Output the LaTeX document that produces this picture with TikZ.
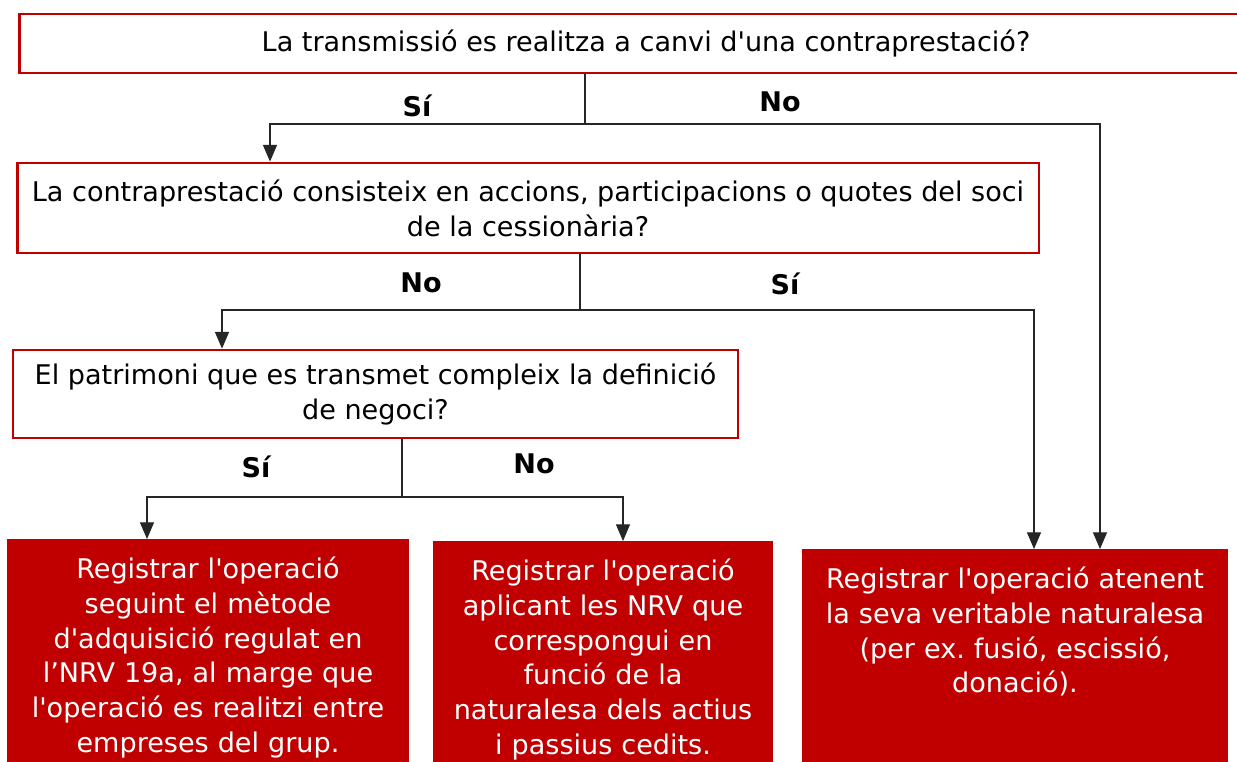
\documentclass[tikz,border=0pt]{standalone}
\usepackage{fontspec}
\setmainfont{DejaVu Sans}[Ligatures=TeXOff]
\usetikzlibrary{arrows.meta}
\definecolor{boxred}{RGB}{192,0,0}
\tikzstyle{question} = [draw=boxred, line width=1.6pt, fill=white, rectangle, inner sep=0pt, align=center]
\tikzstyle{answer} = [fill=boxred, text=white, rectangle, anchor=north, align=center, inner xsep=0pt, inner ysep=10pt, text depth=8cm]
\tikzset{
	branch/.style = {font=\fontsize{15.4pt}{20pt}\bfseries},
	flow/.style = {draw=black!85, line width=0.6pt},
	flow->/.style = {flow, -{Triangle[length=9.5pt,width=8pt]}}
}

\begin{document}
\begin{tikzpicture}[x=0.02cm, y=-0.02cm, font=\fontsize{15.4pt}{19.8pt}\selectfont\frenchspacing]
    \useasboundingbox (0,0) rectangle (1237,761);
    \clip (0,0) rectangle (1237,761);
    % We start by placing the questions
    \node [question, minimum width=25.08cm, minimum height=1.18cm] (transmissio) at (646,43.5)
        {La transmissió es realitza a canvi d'una contraprestació?};
    \node [question, minimum width=20.44cm, minimum height=1.8cm] (contraprestacio) at (528,208)
        {La contraprestació consisteix en accions, participacions o quotes del soci\\de la cessionària?};
    \node [question, minimum width=14.5cm, minimum height=1.76cm] (patrimoni) at (375.5,394)
        {El patrimoni que es transmet compleix la definició\\de negoci?};
    % then the results at the bottom
    \node [answer, text width=8.04cm] (adquisicio) at (208,539)
        {Registrar l'operació\\seguint el mètode\\d'adquisició regulat en\\l’NRV 19a, al marge que\\l'operació es realitzi entre\\empreses del grup.};
    \node [answer, text width=6.8cm] (nrv) at (603,541)
        {Registrar l'operació\\aplicant les NRV que\\correspongui en\\funció de la\\naturalesa dels actius\\i passius cedits.};
    \node [answer, text width=8.52cm] (naturalesa) at (1015,549)
        {Registrar l'operació atenent\\la seva veritable naturalesa\\(per ex. fusió, escissió,\\donació).};

    % Branch points below each question
    \coordinate (split1) at (585,124);
    \coordinate (split2) at (580,310);
    \coordinate (split3) at (402,497);

    \draw [flow] (transmissio.south -| split1) -- (split1);
    \draw [flow->] (split1) -| (270,0 |- contraprestacio.north);
    \draw [flow->] (split1) -| (1100,0 |- naturalesa.north);
    \node [branch] (si1) at (417,106) {Sí};
    \node [branch] (no1) at (780,102) {No};

    \draw [flow] (contraprestacio.south -| split2) -- (split2);
    \draw [flow->] (split2) -| (222,0 |- patrimoni.north);
    \draw [flow->] (split2) -| (1034,0 |- naturalesa.north);
    \node [branch] (no2) at (421,283) {No};
    \node [branch] (si2) at (785,284) {Sí};

    \draw [flow] (patrimoni.south -| split3) -- (split3);
    \draw [flow->] (split3) -| (147,0 |- adquisicio.north);
    \draw [flow->] (split3) -| (623,0 |- nrv.north);
    \node [branch] (si3) at (256,467) {Sí};
    \node [branch] (no3) at (534,464) {No};
\end{tikzpicture}
\end{document}
